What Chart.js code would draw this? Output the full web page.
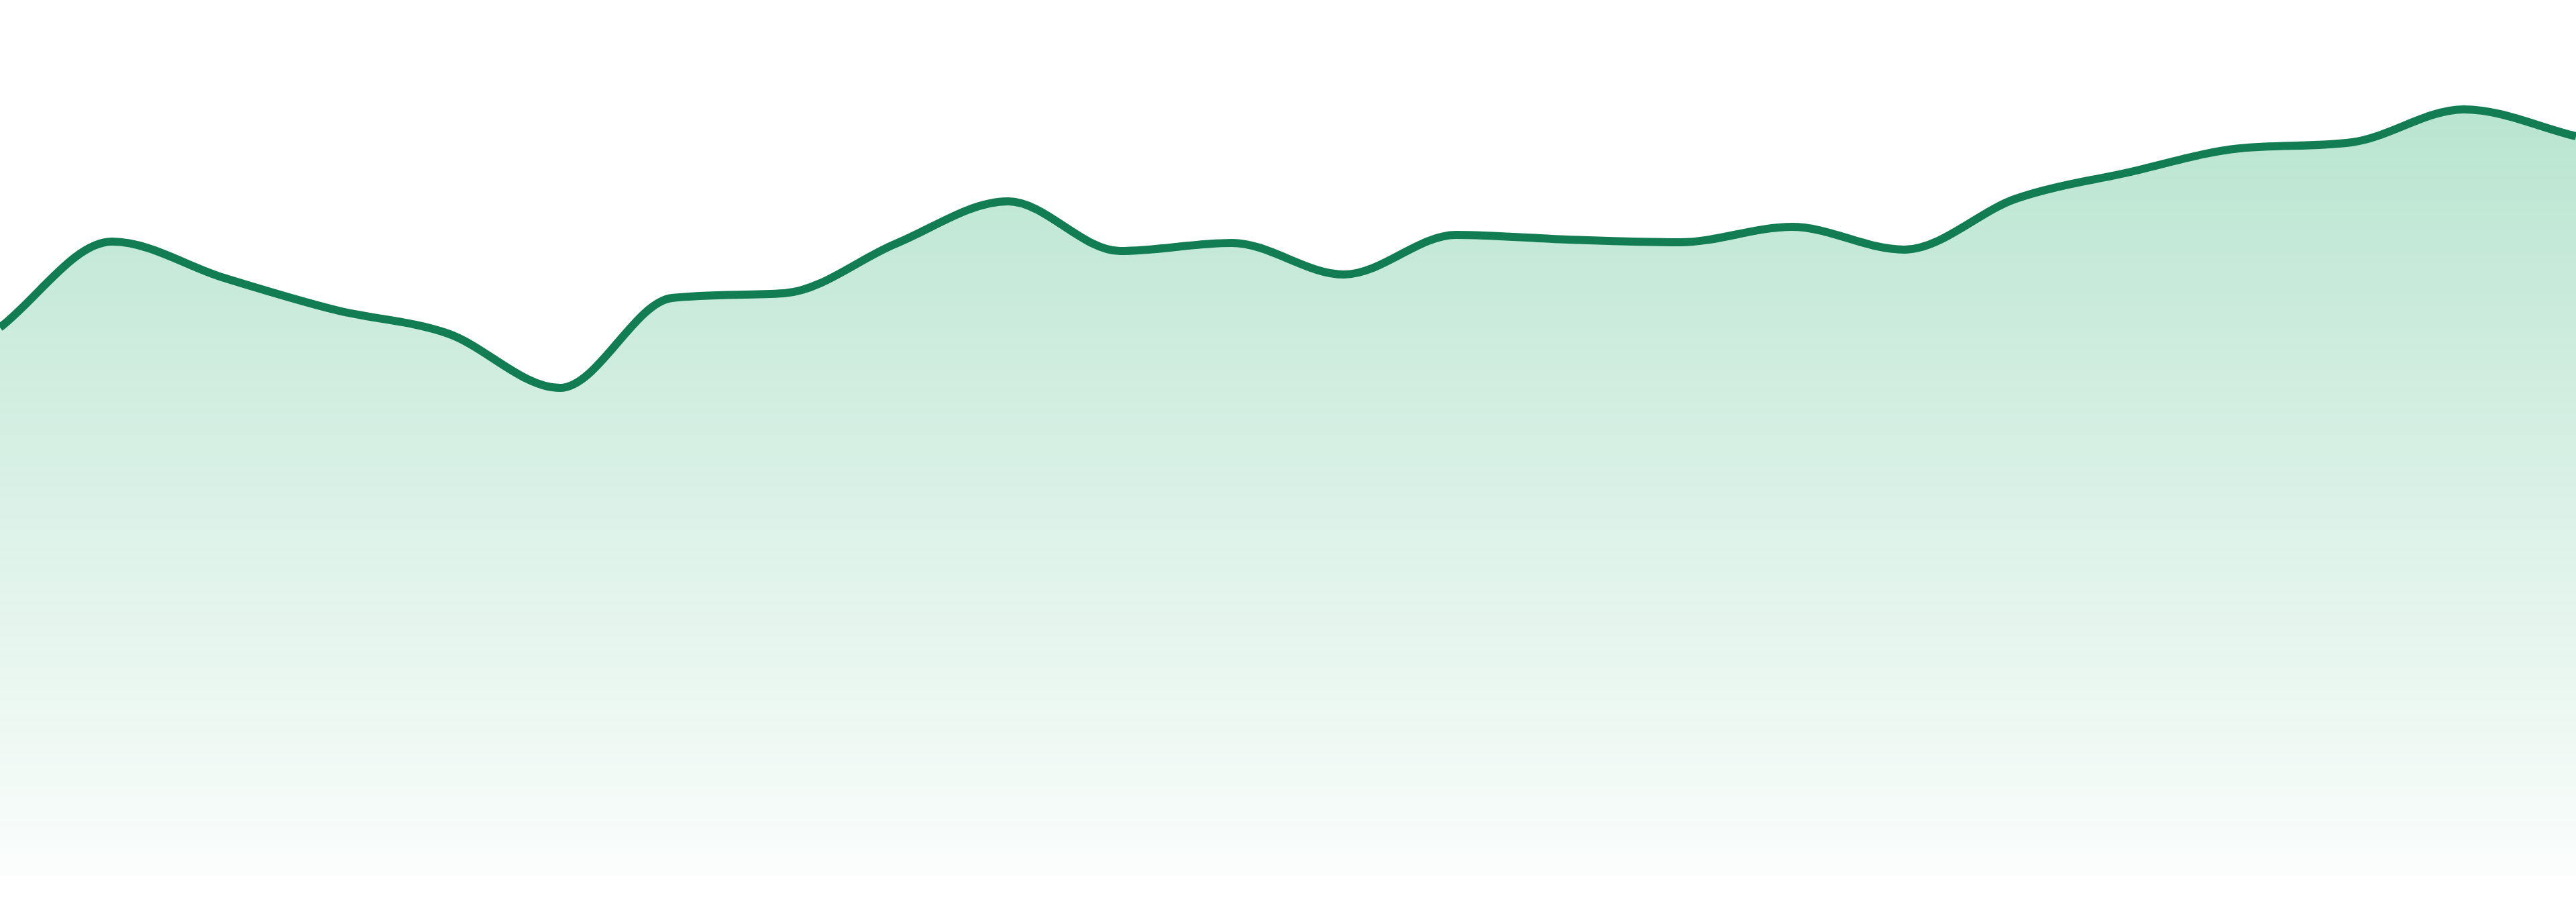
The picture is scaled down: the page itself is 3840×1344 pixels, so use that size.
<!DOCTYPE html>
<html>
<head>
<meta charset="utf-8">
<script src="https://cdn.jsdelivr.net/npm/chart.js@4.4.1/dist/chart.umd.min.js"></script>
<style>
    html, body { margin: 0; padding: 0; background: #ffffff; }
    #wrap { width: 3840px; height: 1344px; position: relative; }
</style>
</head>
<body>
<div id="wrap"><canvas id="areaChart"></canvas></div>
<script>
const labels = ['01', '02', '03', '04', '05', '06', '07', '08', '09', '10', '11', '12',
                '13', '14', '15', '16', '17', '18', '19', '20', '21', '22', '23', '24'];
const valores = [81.7, 94.5, 89.1, 84.3, 80.8, 72.7, 86.1, 86.8, 94.2, 100.5, 93.1, 94.3,
                 89.6, 95.5, 94.8, 94.4, 96.7, 93.3, 100.9, 104.8, 108.4, 109.3, 114.2, 110.2];
const yMin = 0;
const yMax = 130;

document.addEventListener('DOMContentLoaded', function () {
    const areaChart = new Chart(document.getElementById('areaChart'), {
        type: 'line',
        data: {
            labels: labels,
            datasets: [{
                data: valores,
                borderColor: '#127c52',
                borderWidth: 12,
                cubicInterpolationMode: 'monotone',
                pointRadius: 0,
                fill: 'start',
                backgroundColor: function (context) {
                    const area = context.chart.chartArea;
                    if (!area) return 'rgba(22, 163, 94, 0.2)';
                    const g = context.chart.ctx.createLinearGradient(0, area.top, 0, area.bottom);
                    g.addColorStop(0, 'rgba(24, 168, 100, 0.34)');
                    g.addColorStop(1, 'rgba(24, 168, 100, 0.02)');
                    return g;
                }
            }]
        },
        options: {
            responsive: true,
            maintainAspectRatio: false,
            animation: false,
            devicePixelRatio: 1,
            layout: { padding: { top: 5, bottom: 39, left: 0, right: 0 } },
            plugins: { legend: { display: false }, tooltip: { enabled: false } },
            scales: {
                x: { display: false },
                y: { display: false, min: yMin, max: yMax }
            }
        }
    });
});
</script>
</body>
</html>
